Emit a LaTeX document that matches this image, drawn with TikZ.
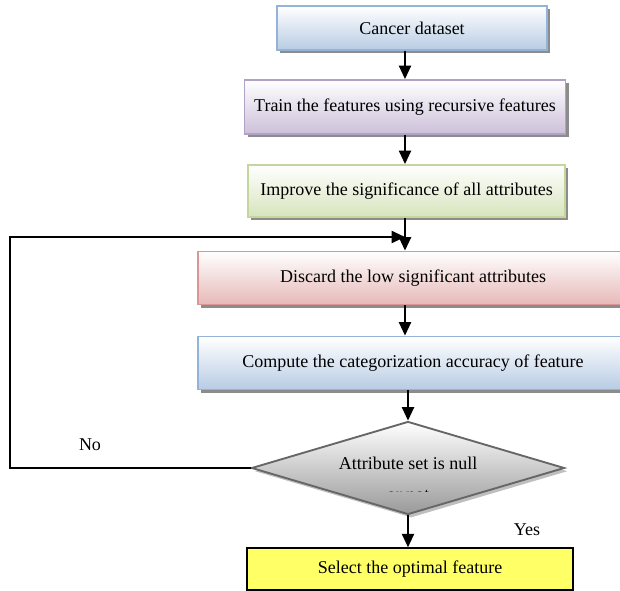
\documentclass[tikz,border=0pt]{standalone}
\usepackage{fontspec}
\setmainfont{Liberation Serif}
\usetikzlibrary{arrows.meta, positioning, shapes.geometric, shadows}

\definecolor{blueedge}{HTML}{95B3D7}
\definecolor{bluefill}{HTML}{B8CCE4}
\definecolor{purpleedge}{HTML}{B2A1C7}
\definecolor{purplefill}{HTML}{CCC0DA}
\definecolor{greenedge}{HTML}{C3D69B}
\definecolor{greenfill}{HTML}{D7E4BD}
\definecolor{rededge}{HTML}{D99694}
\definecolor{redfill}{HTML}{E6B9B8}
\definecolor{selfill}{HTML}{FFFF66}

\begin{document}
\begin{tikzpicture}[
        x=0.75pt, y=-0.75pt,
        font=\fontsize{13.5}{23}\selectfont,
        box/.style={draw, line width=1.4pt, align=center, inner sep=0pt,
            minimum height=39pt, shading=axis, top color=white,
            drop shadow={shadow xshift=2.4pt, shadow yshift=-2.4pt, fill=black!45, opacity=1}},
        bluebox/.style={box, draw=blueedge, bottom color=bluefill},
        line/.style={-{Triangle[length=10pt, width=9pt]}, line width=1.4pt}
    ]
    \useasboundingbox (0,0) rectangle (620,591);

    % Top: data and training
    \node[bluebox, minimum width=202.5pt, minimum height=33pt] (cancer) at (412,28) {Cancer dataset};
    \node[box, draw=purpleedge, bottom color=purplefill, minimum width=240.75pt, minimum height=40.5pt] (train) at (405,107) {Train the features using recursive features};
    \node[box, draw=greenedge, bottom color=greenfill, minimum width=237.75pt] (improve) at (406.5,191) {Improve the significance of all attributes};

    % Middle: elimination loop
    \node[box, draw=rededge, bottom color=redfill, minimum width=322.5pt, minimum height=39.75pt] (discard) at (413,278) {Discard the low significant attributes};
    \node[bluebox, minimum width=322.5pt, minimum height=39.75pt] (compute) at (413,363) {Compute the categorization accuracy of feature};

    % Decision
    \node[diamond, draw=black!60, line width=1.4pt, inner sep=0pt, minimum width=234.75pt, minimum height=69.75pt,
        shading=axis, top color=white, bottom color=black!40,
        drop shadow={shadow xshift=2.4pt, shadow yshift=-2.4pt, fill=black!25, opacity=1}] (dec) at (408,468) {};
    \begin{scope}
        \clip (240,440) rectangle (580,491);
        \node[align=center] (declabel) at (408,479) {Attribute set is null\\or not};
    \end{scope}

    % Bottom: result
    \node[draw=black, line width=1.1pt, fill=selfill, minimum width=244.5pt, minimum height=31.5pt, inner sep=0pt] (select) at (410,569) {Select the optimal feature};

    \node (no) at (90,445) {No};
    \node (yes) at (527,530) {Yes};

    \coordinate (join) at (405,237);
    \coordinate (corner) at (10,468);

    % Arrows
    \draw[line] (cancer.south -| train.north) -- (train.north);
    \draw[line] (train.south) -- (train.south |- improve.north);
    \draw[line] (improve.south -| join) -- (discard.north -| join);
    \draw[line] (discard.south -| join) -- (compute.north -| join);
    \draw[line] (compute.south -| dec.north) -- (dec.north);
    \draw[line] (dec.south) -- (dec.south |- select.north);

    % No: back to discard
    \draw[line] (dec.west) -- (corner) |- (join);

\end{tikzpicture}
\end{document}
